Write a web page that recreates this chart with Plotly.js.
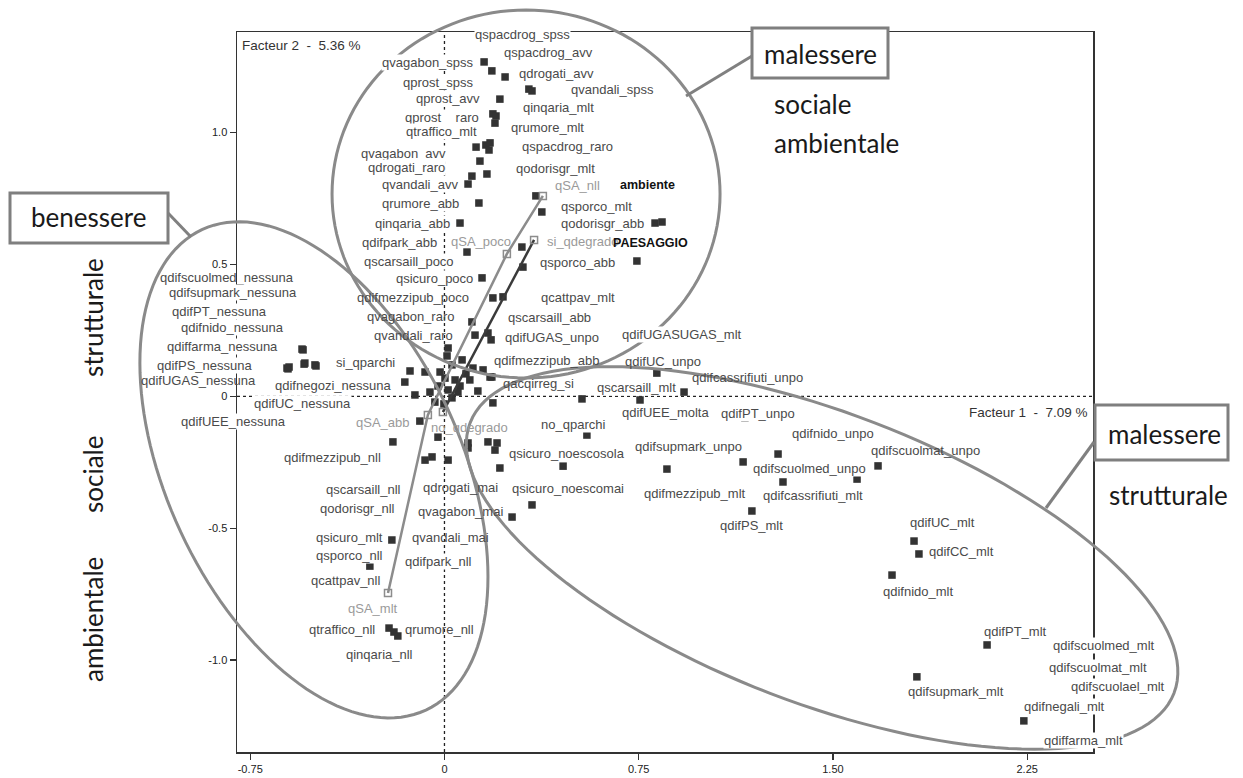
<!DOCTYPE html>
<html><head><meta charset="utf-8">
<script src="https://cdn.plot.ly/plotly-3.0.1.min.js"></script>
<style>html,body{margin:0;padding:0;background:#fff}#chart{width:1243px;height:778px}</style>
</head><body><div id="chart"></div>
<script>
// ---------- DATA: coordinates of the modalities on Factor 1 / Factor 2 ----------
const activeNames = [
 'qspacdrog_spss','qspacdrog_avv','qvagabon_spss','qdrogati_avv','qprost_spss','qvandali_spss',
 'qprost_avv','qinqaria_mlt','qprost__raro','qtraffico_mlt','qrumore_mlt','qvagabon_avv',
 'qspacdrog_raro','qdrogati_raro','qodorisgr_mlt','qvandali_avv','qrumore_abb','qsporco_mlt',
 'qinqaria_abb','qodorisgr_abb','qdifpark_abb','qscarsaill_poco','qsporco_abb','qsicuro_poco',
 'qdifmezzipub_poco','qcattpav_mlt','qvagabon_raro','qscarsaill_abb','qdifUGAS_unpo','qvandali_raro',
 'qdifUGASUGAS_mlt','qdifmezzipub_abb','qdifUC_unpo','qdifcassrifiuti_unpo','qacqirreg_si','qscarsaill_mlt',
 'qdifUEE_molta','qdifPT_unpo','no_qparchi','qdifnido_unpo','qdifsupmark_unpo','qsicuro_noescosola',
 'qdifscuolmat_unpo','qdifscuolmed_unpo','qsicuro_noescomai','qdifmezzipub_mlt','qdifcassrifiuti_mlt','qdifPS_mlt',
 'qdifUC_mlt','qdifCC_mlt','qdifnido_mlt','qdifPT_mlt','qdifsupmark_mlt','qdifnegali_mlt',
 'qdifscuolmed_mlt','qdifscuolmat_mlt','qdifscuolael_mlt','qdiffarma_mlt',
 'qdifscuolmed_nessuna','qdifsupmark_nessuna','qdifPT_nessuna','qdifnido_nessuna','qdiffarma_nessuna','qdifPS_nessuna',
 'qdifUGAS_nessuna','qdifUC_nessuna','qdifUEE_nessuna','qdifnegozi_nessuna','si_qparchi',
 'qdifmezzipub_nll','qscarsaill_nll','qdrogati_mai','qodorisgr_nll','qvagabon_mai','qvandali_mai',
 'qsicuro_mlt','qsporco_nll','qdifpark_nll','qcattpav_nll','qtraffico_nll','qrumore_nll','qinqaria_nll'
];
const activeF1 = [
 0.183,0.234,0.153,0.326,0.214,0.338,
 0.187,0.199,0.195,0.160,0.176,0.122,
 0.172,0.137,0.164,0.091,0.133,0.376,
 0.060,0.813,0.087,0.303,0.743,0.145,
 0.187,0.226,0.106,0.168,0.180,0.118,
 0.832,0.149,0.820,0.925,0.176,0.531,
 0.755,1.160,0.550,1.288,1.153,0.195,
 1.674,1.307,0.214,0.859,1.593,1.187,
 1.813,1.832,1.728,2.095,1.824,2.237,
 2.492,2.485,2.492,2.485,
 -0.542,-0.546,-0.539,-0.500,-0.550,-0.608,
 -0.604,-0.496,-0.600,-0.153,-0.133,
 -0.199,-0.075,0.014,-0.048,0.338,0.261,
 -0.203,-0.288,-0.017,-0.326,-0.214,-0.180,-0.195
];
const activeF2 = [
 1.234,1.211,1.268,1.165,1.127,1.158,
 1.071,1.063,1.036,0.953,0.961,0.945,
 0.934,0.892,0.843,0.805,0.733,0.699,
 0.657,0.657,0.547,0.490,0.513,0.449,
 0.373,0.377,0.282,0.240,0.214,0.232,
 0.225,0.100,0.088,0.016,0.073,-0.010,
 -0.014,-0.082,-0.147,-0.219,-0.249,-0.204,
 -0.264,-0.325,-0.272,-0.276,-0.314,-0.435,
 -0.549,-0.598,-0.678,-0.943,-1.064,-1.231,
 -0.954,-1.030,-1.102,-1.303,
 0.122,0.176,0.126,0.119,0.179,0.107,
 0.104,0.115,0.111,0.054,0.096,
 -0.173,-0.242,-0.242,-0.230,-0.412,-0.458,
 -0.545,-0.644,-0.632,-0.700,-0.879,-0.909,-0.894
];
// unlabelled active modalities (mostly hidden in the central cloud)
const otherF1 = [0.353,0.840,0.106,0.299,0.014,0.010,0.029,-0.017,0.002,0.041,0.060,-0.025,0.014,0.029,-0.037,0.052,
 0.083,0.068,0.110,0.098,0.129,0.187,-0.095,-0.075,-0.025,0.091,0.168,0.203,0.091,0.458,0.183,-0.056,-0.002,-0.114];
const otherF2 = [0.760,0.661,0.835,0.566,0.183,0.153,0.119,0.092,0.069,0.062,0.039,0.039,0.024,-0.006,-0.022,0.016,
 0.085,0.138,0.107,0.062,0.020,-0.025,-0.094,0.092,-0.155,-0.177,-0.173,-0.177,-0.196,-0.265,0.073,0.016,-0.029,0.005];
// supplementary variables (trajectories)
const suppNames = ['qSA_mlt','qSA_abb','qSA_poco','qSA_nll','no_qdegrado','si_qdegrado'];
const suppF1 = [-0.218,-0.064,0.241,0.380,-0.006,0.346];
const suppF2 = [-0.746,-0.071,0.540,0.760,-0.060,0.593];
const suppVarNames = ['ambiente','PAESAGGIO'];
const xTickVals = [-0.75,0,0.75,1.5,2.25];
const xTickText = ['-0.75','0','0.75','1.50','2.25'];
const yTickVals = [-1,-0.5,0,0.5,1];
const yTickText = ['-1.0','-0.5','0','0.5','1.0'];
const axis1Title = 'Facteur 1  -  7.09 %';
const axis2Title = 'Facteur 2  -  5.36 %';

// ---------- STYLE: label placement (pixel offset from point, white backing) ----------
const labelStyle = {
 qspacdrog_spss:[31,-36,1],qspacdrog_avv:[43,-24,1],qvagabon_spss:[-56,1,1],qdrogati_avv:[28,-16,1],
 qprost_spss:[-61,-17,1],qvandali_spss:[80,-1,1],qprost_avv:[-45,-15,1],qinqaria_mlt:[62,-8,1],
 qprost__raro:[-53,-6,1],qtraffico_mlt:[-44,-13,1],qrumore_mlt:[57,-15,1],qvagabon_avv:[-73,6,1],
 qspacdrog_raro:[78,-4,1],qdrogati_raro:[-73,6,1],qodorisgr_mlt:[69,-6,1],qvandali_avv:[-48,0,1],
 qrumore_abb:[-58,0,1],qsporco_mlt:[55,-5,1],qinqaria_abb:[-48,0,1],qodorisgr_abb:[-53,0,1],
 qdifpark_abb:[-67,-10,1],qscarsaill_poco:[-114,-6,1],qsporco_abb:[-59,1,1],qsicuro_poco:[-48,1,1],
 qdifmezzipub_poco:[-80,0,0],qcattpav_mlt:[75,1,1],qvagabon_raro:[-61,-5,0],qscarsaill_abb:[62,-16,1],
 qdifUGAS_unpo:[61,-2,1],qvandali_raro:[-62,0,0],qdifUGASUGAS_mlt:[22,-2,1],qdifmezzipub_abb:[64,-9,0],
 qdifUC_unpo:[6,-12,0],qdifcassrifiuti_unpo:[63,-15,0],qacqirreg_si:[48,6,0],qscarsaill_mlt:[55,-11,1],
 qdifUEE_molta:[25,13,1],qdifPT_unpo:[13,-4,1],no_qparchi:[-14,-11,1],qdifnido_unpo:[55,-21,1],
 qdifsupmark_unpo:[-55,-15,1],qsicuro_noescosola:[72,3,1],qdifscuolmat_unpo:[47,-15,0],qdifscuolmed_unpo:[27,-13,1],
 qsicuro_noescomai:[68,20,1],qdifmezzipub_mlt:[28,24,1],qdifcassrifiuti_mlt:[-44,16,1],qdifPS_mlt:[0,15,1],
 qdifUC_mlt:[28,-19,1],qdifCC_mlt:[43,-2,1],qdifnido_mlt:[26,16,1],qdifPT_mlt:[28,-13,1],
 qdifsupmark_mlt:[39,15,1],qdifnegali_mlt:[41,-14,1],qdifscuolmed_mlt:[14,-2,1],qdifscuolmat_mlt:[10,0,1],
 qdifscuolael_mlt:[28,0,1],qdiffarma_mlt:[-5,1,1],
 qdifscuolmed_nessuna:[-77,-87,0],qdifsupmark_nessuna:[-70,-57,1],qdifPT_nessuna:[-85,-52,1],
 qdifnido_nessuna:[-82,-37,1],qdiffarma_nessuna:[-80,-3,1],qdifPS_nessuna:[-82,-3,1],
 qdifUGAS_nessuna:[-90,12,0],qdifUC_nessuna:[-14,38,1],qdifUEE_nessuna:[-56,54,1],
 qdifnegozi_nessuna:[-72,3,1],si_qparchi:[-45,-8,1],
 qdifmezzipub_nll:[-60,16,1],qscarsaill_nll:[-62,29,1],qdrogati_mai:[12,27,0],qodorisgr_nll:[-75,52,1],
 qvagabon_mai:[-72,7,0],qvandali_mai:[-62,20,0],qsicuro_mlt:[-42,-2,1],qsporco_nll:[-20,-11,1],
 qdifpark_nll:[-2,-1,1],qcattpav_nll:[-15,0,1],qtraffico_nll:[-47,1,1],qrumore_nll:[42,-6,0],qinqaria_nll:[-14,22,1],
 qSA_mlt:[-15,15,0],qSA_abb:[-45,7,1],qSA_poco:[-26,-12,0],qSA_nll:[35,-10,0],no_qdegrado:[27,15,0],si_qdegrado:[49,2,0]
};
const varLabelStyle = {ambiente:['qSA_nll',105,-11], PAESAGGIO:['si_qdegrado',116,3]};

// ---------- GEOMETRY of plot ----------
const L=237, T=32, W=856, H=720, FIGW=1243, FIGH=778;
const xr=[-0.801,2.504], yr=[-1.349,1.3815];
const P = (px,py)=>({x:(px-L)/W, y:(T+H-py)/H});
function dataToPx(x,y){return [L+(x-xr[0])/(xr[1]-xr[0])*W, T+(yr[1]-y)/(yr[1]-yr[0])*H];}
function ellipsePath(cx,cy,a,b,ang){
  const c=dataToPx(cx,cy), th=ang*Math.PI/180; let d='';
  for(let i=0;i<=144;i++){const t=2*Math.PI*i/144,u=a*Math.cos(t),v=b*Math.sin(t);
    const px=c[0]+u*Math.cos(th)-v*Math.sin(th), py=c[1]+u*Math.sin(th)+v*Math.cos(th);
    const q=P(px,py); d+=(i?'L':'M')+q.x.toFixed(5)+','+q.y.toFixed(5);}
  return d+'Z';
}

const labelFont = {family:'Arial, "Liberation Sans", sans-serif', size:13, color:'#4a4a4a'};
const suppFont = {family:'Arial, "Liberation Sans", sans-serif', size:13, color:'#9a9a9a'};
const bigFont = {family:'Lato, "Open Sans", sans-serif', size:26, color:'#1a1a1a'};

const traces = [
 {type:'scatter',mode:'markers',x:otherF1,y:otherF2,marker:{symbol:'square',size:7.5,color:'#333'},hoverinfo:'skip'},
 {type:'scatter',mode:'markers',x:activeF1,y:activeF2,marker:{symbol:'square',size:7.5,color:'#333'},hoverinfo:'skip'},
 {type:'scatter',mode:'lines',x:suppF1.slice(0,4),y:suppF2.slice(0,4),line:{color:'#8c8c8c',width:2.5},hoverinfo:'skip'},
 {type:'scatter',mode:'lines',x:suppF1.slice(4,6),y:suppF2.slice(4,6),line:{color:'#3a3a3a',width:2.5},hoverinfo:'skip'},
 {type:'scatter',mode:'markers',x:suppF1,y:suppF2,marker:{symbol:'square-open',size:7,color:'#8c8c8c',line:{width:1.5}},hoverinfo:'skip'}
];

const annotations = [];
function addLabel(name,x,y,font){
  const s=labelStyle[name]||[0,-10,1];
  annotations.push({x:x,y:y,xref:'x',yref:'y',text:name,showarrow:false,xshift:s[0],yshift:-s[1],
    font:font,bgcolor:s[2]?'#ffffff':'rgba(0,0,0,0)',borderpad:0,xanchor:'center',yanchor:'middle'});
}
activeNames.forEach((n,i)=>addLabel(n,activeF1[i],activeF2[i],labelFont));
suppNames.forEach((n,i)=>addLabel(n,suppF1[i],suppF2[i],suppFont));
suppVarNames.forEach(v=>{const s=varLabelStyle[v]; const i=suppNames.indexOf(s[0]);
  annotations.push({x:suppF1[i],y:suppF2[i],xref:'x',yref:'y',text:'<b>'+v+'</b>',showarrow:false,
   xshift:s[1],yshift:-s[2],font:{family:'Arial, "Liberation Sans", sans-serif',size:12.5,color:'#111'}});});

// axis captions
let q=P(241,45);
annotations.push({xref:'paper',yref:'paper',x:q.x,y:q.y,xanchor:'left',yanchor:'middle',text:axis2Title,showarrow:false,
  font:{family:'Arial, "Liberation Sans", sans-serif',size:13.5,color:'#333'},bgcolor:'#fff',borderpad:0});
q=P(1089,412);
annotations.push({xref:'paper',yref:'paper',x:q.x,y:q.y,xanchor:'right',yanchor:'middle',text:axis1Title,showarrow:false,
  font:{family:'Arial, "Liberation Sans", sans-serif',size:13.5,color:'#333'},bgcolor:'#fff',borderpad:0});

// overlay texts
function txt(t,px,py,anchor,angle){const p=P(px,py);
  annotations.push({xref:'paper',yref:'paper',x:p.x,y:p.y,text:t,showarrow:false,xanchor:anchor||'center',yanchor:'middle',
    textangle:angle||0,font:bigFont});}
txt('benessere',88,217);
txt('malessere',820,54);
txt('sociale',772,104,'left');
txt('ambientale',772,143,'left');
txt('malessere',1164,434);
txt('strutturale',1107,495,'left');
txt('strutturale',93,318,'center',-90);
txt('sociale',93,475,'center',-90);
txt('ambientale',93,620,'center',-90);

const shapes = [];
// dotted zero lines
shapes.push({type:'line',xref:'x',yref:'paper',x0:0,x1:0,y0:0,y1:1,layer:'below',line:{color:'#222',width:1.3,dash:'dot'}});
shapes.push({type:'line',xref:'paper',yref:'y',x0:0,x1:1,y0:0,y1:0,layer:'below',line:{color:'#222',width:1.3,dash:'dot'}});
// ellipses
const ellCol='#8a8a8a';
shapes.push({type:'path',xref:'paper',yref:'paper',path:ellipsePath(0.315,0.767,194,184,0),line:{color:ellCol,width:3}});
shapes.push({type:'path',xref:'paper',yref:'paper',path:ellipsePath(-0.504,-0.279,265,147,65),line:{color:ellCol,width:3}});
shapes.push({type:'path',xref:'paper',yref:'paper',path:ellipsePath(1.458,-0.613,377,145,21),line:{color:ellCol,width:3}});
// connectors and boxes
function seg(a,b,c,d){const p1=P(a,b),p2=P(c,d);shapes.push({type:'line',xref:'paper',yref:'paper',x0:p1.x,y0:p1.y,x1:p2.x,y1:p2.y,line:{color:'#808080',width:3}});}
function box(a,b,c,d){const p1=P(a,b),p2=P(c,d);shapes.push({type:'rect',xref:'paper',yref:'paper',x0:p1.x,y0:p1.y,x1:p2.x,y1:p2.y,fillcolor:'#fff',line:{color:'#7f7f7f',width:3}});}
seg(168,213,191,237);
seg(752,56,686,96);
seg(1094,442,1046,508);
box(10,193,168,243);
box(752,28,888,78);
box(1095,405,1228,460);

const tickFont={family:'"Liberation Sans Narrow","Arial Narrow",Arial,sans-serif',size:11,color:'#222'};
const layout = {
 width:FIGW,height:FIGH,margin:{l:L,r:FIGW-L-W,t:T,b:FIGH-T-H,pad:0},
 paper_bgcolor:'#fff',plot_bgcolor:'#fff',showlegend:false,
 xaxis:{range:xr,showgrid:false,zeroline:false,showline:true,mirror:true,linecolor:'#333',linewidth:1.5,
   ticks:'outside',ticklen:6,tickwidth:1.2,tickcolor:'#333',tickvals:xTickVals,ticktext:xTickText,tickfont:tickFont,fixedrange:true,automargin:false},
 yaxis:{range:yr,showgrid:false,zeroline:false,showline:true,mirror:true,linecolor:'#333',linewidth:1.5,
   ticks:'outside',ticklen:6,tickwidth:1.2,tickcolor:'#333',tickvals:yTickVals,ticktext:yTickText,tickfont:tickFont,fixedrange:true,automargin:false},
 annotations:annotations,shapes:shapes
};
Plotly.newPlot('chart',traces,layout,{staticPlot:true,displayModeBar:false});
</script></body></html>
